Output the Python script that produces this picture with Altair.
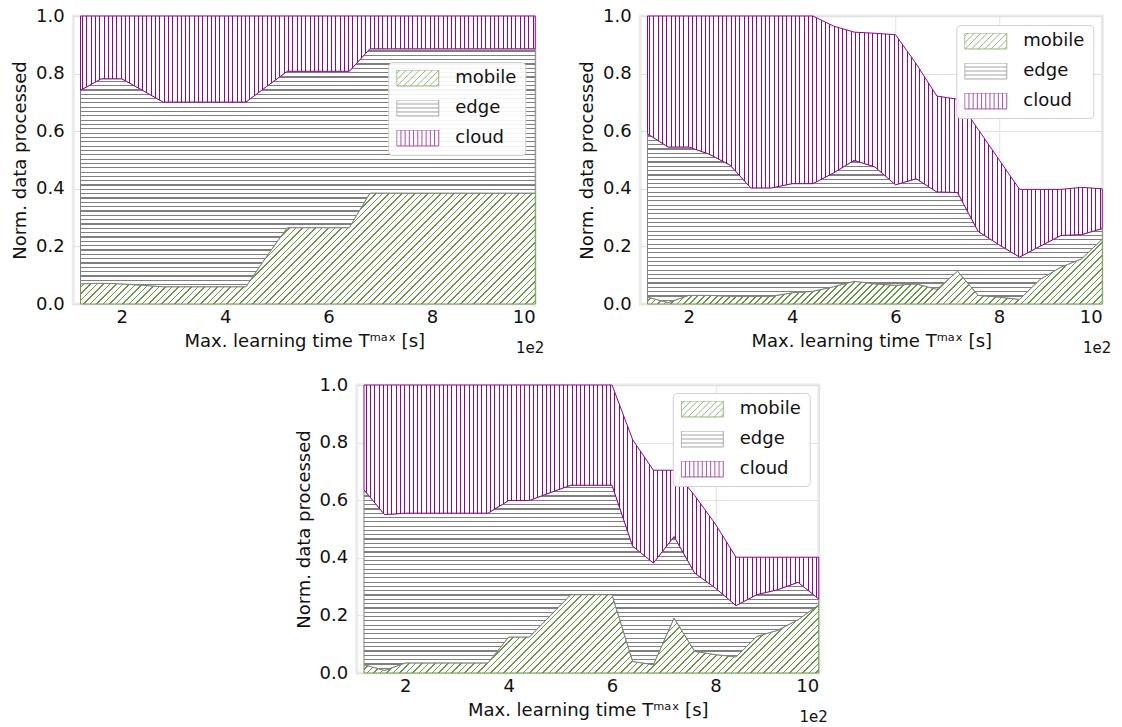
import math
import altair as alt
import pandas as pd

# ---------------- data ----------------
T = [1.2, 1.6, 2.0, 2.4, 2.8, 3.2, 3.6, 4.0, 4.4, 4.8, 5.2, 5.6,
     6.0, 6.4, 6.8, 7.2, 7.6, 8.0, 8.4, 8.8, 9.2, 9.6, 10.0]

MOBILE_1 = [0.070, 0.072, 0.070, 0.065, 0.060, 0.060, 0.060, 0.060, 0.060, 0.165, 0.265, 0.265,
            0.265, 0.265, 0.385, 0.385, 0.385, 0.385, 0.385, 0.385, 0.385, 0.385, 0.385]
EDGE_1 = [0.672, 0.710, 0.712, 0.677, 0.641, 0.641, 0.641, 0.641, 0.641, 0.590, 0.543, 0.543,
          0.543, 0.543, 0.501, 0.501, 0.501, 0.501, 0.501, 0.501, 0.501, 0.501, 0.501]
CLOUD_1 = [0.258, 0.218, 0.218, 0.258, 0.299, 0.299, 0.299, 0.299, 0.299, 0.245, 0.192, 0.192,
           0.192, 0.192, 0.114, 0.114, 0.114, 0.114, 0.114, 0.114, 0.114, 0.114, 0.114]

MOBILE_2 = [0.024, 0.005, 0.030, 0.030, 0.027, 0.027, 0.027, 0.039, 0.044, 0.060, 0.079, 0.070,
            0.065, 0.070, 0.051, 0.114, 0.030, 0.024, 0.016, 0.086, 0.128, 0.157, 0.225]
EDGE_2 = [0.567, 0.540, 0.515, 0.490, 0.455, 0.376, 0.376, 0.379, 0.374, 0.395, 0.420, 0.406,
          0.349, 0.365, 0.338, 0.273, 0.222, 0.182, 0.147, 0.115, 0.110, 0.084, 0.037]
CLOUD_2 = [0.409, 0.455, 0.455, 0.480, 0.518, 0.597, 0.597, 0.582, 0.582, 0.510, 0.445, 0.464,
           0.521, 0.399, 0.333, 0.324, 0.354, 0.296, 0.235, 0.197, 0.160, 0.164, 0.138]

MOBILE_3 = [0.029, 0.009, 0.035, 0.035, 0.035, 0.035, 0.035, 0.125, 0.125, 0.198, 0.272, 0.272,
            0.272, 0.040, 0.029, 0.191, 0.075, 0.064, 0.056, 0.127, 0.148, 0.185, 0.237]
EDGE_3 = [0.607, 0.541, 0.520, 0.520, 0.520, 0.520, 0.520, 0.474, 0.474, 0.428, 0.380, 0.380,
          0.380, 0.400, 0.353, 0.283, 0.272, 0.231, 0.178, 0.145, 0.141, 0.130, 0.020]
CLOUD_3 = [0.364, 0.450, 0.445, 0.445, 0.445, 0.445, 0.445, 0.401, 0.401, 0.374, 0.348, 0.348,
           0.348, 0.370, 0.322, 0.230, 0.269, 0.222, 0.168, 0.130, 0.113, 0.087, 0.145]

SERIES = ["mobile", "edge", "cloud"]
X_TICKS = [2, 4, 6, 8, 10]
Y_TICKS = [0.0, 0.2, 0.4, 0.6, 0.8, 1.0]
X_TITLE = "Max. learning time Tᵐᵃˣ [s]"
Y_TITLE = "Norm. data processed"
OFFSET_LABEL = "1e2"

# ---------------- style ----------------
COLORS = {"mobile": "#6a9745", "edge": "#808080", "cloud": "#870a87"}
FONT = "DejaVu Sans"
TEXT = "#111111"
PLOT_W, PLOT_H = 462, 288
X_DOMAIN = [1.06, 10.0]
SPACING = 4.3          # hatch spacing (px)
DIAG_SPACING = 4.6
LINE_PX = {"mobile": 1.2, "edge": 1.2, "cloud": 1.0}


def stripe_stops(n, frac, color, bg="white"):
    stops = [{"offset": 0, "color": bg}]
    for i in range(n):
        c = (i + 0.5) / n
        a = max(0.0, c - frac / 2)
        b = min(1.0, c + frac / 2)
        stops += [{"offset": a, "color": bg}, {"offset": a, "color": color},
                  {"offset": b, "color": color}, {"offset": b, "color": bg}]
    stops.append({"offset": 1, "color": bg})
    return stops


def horiz_hatch(W, H, color, lw):
    n = max(1, round(H / SPACING))
    return {"gradient": "linear", "x1": 0, "y1": 0, "x2": 0, "y2": 1,
            "stops": stripe_stops(n, lw / H, color)}


def vert_hatch(W, H, color, lw):
    n = max(1, round(W / SPACING))
    return {"gradient": "linear", "x1": 0, "y1": 0, "x2": 1, "y2": 0,
            "stops": stripe_stops(n, lw / W, color)}


def diag_hatch(W, H, color, lw):
    h = H / W
    a = (1 + h) / (1 + h * h)
    b = a * h
    D = (W + H) / math.sqrt(2)
    n = max(1, round(D / DIAG_SPACING))
    return {"gradient": "linear", "x1": 0, "y1": 0, "x2": a, "y2": b,
            "stops": stripe_stops(n, lw / D, color)}


# legend swatches as custom symbol paths
HY = 0.38


def swatch_diag(step=0.31):
    parts = [f"M-1,{-HY}H1V{HY}H-1Z"]
    x0 = -1 - 2 * HY + step / 2
    while x0 < 1:
        xa, ya = x0, HY
        xb, yb = x0 + 2 * HY, -HY
        if xa < -1:
            ya = HY - (-1 - xa)
            xa = -1
        if xb > 1:
            yb = HY - (1 - x0)
            xb = 1
        if xb > xa:
            parts.append(f"M{xa:.3f},{ya:.3f}L{xb:.3f},{yb:.3f}")
        x0 += step
    return "".join(parts)


def swatch_horiz():
    return f"M-1,{-HY}H1V{HY}H-1Z" + "".join(f"M-1,{y:.3f}H1" for y in (-0.19, 0.0, 0.19))


def swatch_vert():
    return f"M-1,{-HY}H1V{HY}H-1Z" + "".join(f"M{-1 + 0.2 * k:.3f},{-HY}V{HY}" for k in range(1, 10))


SHAPES = [swatch_diag(), swatch_horiz(), swatch_vert()]


def panel(mobile, edge, cloud, lx, ly):
    df = pd.DataFrame({"t": T, "mobile": mobile, "edge": edge, "cloud": cloud})
    df["base"] = 0.0
    df["m_top"] = df["mobile"]
    df["e_top"] = df["mobile"] + df["edge"]
    df["c_top"] = df["e_top"] + df["cloud"]

    xs = alt.Scale(domain=X_DOMAIN, nice=False, zero=False)
    ys = alt.Scale(domain=[0, 1], nice=False)
    xax = alt.Axis(values=X_TICKS, format="d", title=X_TITLE, labelPadding=4, titlePadding=6)
    yax = alt.Axis(values=Y_TICKS, format=".1f", title=Y_TITLE, labelPadding=9, titlePadding=6)
    x = alt.X("t:Q", scale=xs, axis=xax)

    W = (T[-1] - T[0]) * PLOT_W / (X_DOMAIN[1] - X_DOMAIN[0])
    Hm = df["m_top"].max() * PLOT_H
    He = (df["e_top"].max() - df["m_top"].min()) * PLOT_H
    Hc = (df["c_top"].max() - df["e_top"].min()) * PLOT_H

    base = alt.Chart(df)
    a_m = base.mark_area(fill=diag_hatch(W, Hm, COLORS["mobile"], LINE_PX["mobile"]),
                         stroke=COLORS["mobile"], strokeWidth=1).encode(
        x=x, y=alt.Y("base:Q", scale=ys, axis=yax), y2="m_top:Q")
    a_e = base.mark_area(fill=horiz_hatch(W, He, COLORS["edge"], LINE_PX["edge"]),
                         stroke=COLORS["edge"], strokeWidth=1).encode(
        x=x, y=alt.Y("m_top:Q", scale=ys, axis=yax), y2="e_top:Q")
    a_c = base.mark_area(fill=vert_hatch(W, Hc, COLORS["cloud"], LINE_PX["cloud"]),
                         stroke=COLORS["cloud"], strokeWidth=1).encode(
        x=x, y=alt.Y("e_top:Q", scale=ys, axis=yax), y2="c_top:Q")

    leg = alt.Legend(title=None, orient="none", legendX=lx, legendY=ly,
                     fillColor="rgba(255,255,255,0.92)", strokeColor="#d0d0d0",
                     cornerRadius=4, padding=8, symbolSize=1764, symbolStrokeWidth=1,
                     labelFontSize=18, labelFont=FONT, labelColor=TEXT, labelOffset=16,
                     clipHeight=16, rowPadding=12)
    lg_df = pd.DataFrame({"series": SERIES, "t": [T[0]] * 3, "v": [0.0] * 3})
    dummy = alt.Chart(lg_df).mark_point(filled=False).encode(
        x=alt.X("t:Q", scale=xs, axis=xax),
        y=alt.Y("v:Q", scale=ys, axis=yax),
        shape=alt.Shape("series:N", scale=alt.Scale(domain=SERIES, range=SHAPES), legend=leg),
        color=alt.Color("series:N", scale=alt.Scale(domain=SERIES, range=[COLORS[s] for s in SERIES]),
                        legend=leg),
    ).transform_filter("false")

    off = alt.Chart(pd.DataFrame({"label": [OFFSET_LABEL]})).mark_text(
        align="right", baseline="middle", fontSize=15, font=FONT, color=TEXT).encode(
        x=alt.value(PLOT_W + 9), y=alt.value(PLOT_H + 44), text="label:N")

    return alt.layer(a_m, a_e, a_c, dummy, off).properties(width=PLOT_W, height=PLOT_H)


p1 = panel(MOBILE_1, EDGE_1, CLOUD_1, 315, 46)
p2 = panel(MOBILE_2, EDGE_2, CLOUD_2, 316, 9)
p3 = panel(MOBILE_3, EDGE_3, CLOUD_3, 316, 8)

row = alt.hconcat(p1, p2, spacing=30).resolve_scale(
    color="independent", shape="independent").resolve_legend(color="independent", shape="independent")

chart = alt.vconcat(row, p3, spacing=16, center=True).resolve_scale(
    color="independent", shape="independent").resolve_legend(
    color="independent", shape="independent").properties(
    padding={"left": 10, "top": 5, "right": 5, "bottom": 5}, background="white"
).configure(font=FONT).configure_view(
    stroke="#ebebeb", strokeWidth=3
).configure_axis(
    grid=True, gridColor="#e2e2e2", gridWidth=1, domain=False, ticks=False, tickSize=0,
    labelFont=FONT, labelFontSize=18, labelColor=TEXT,
    titleFont=FONT, titleFontSize=18, titleFontWeight="normal", titleColor=TEXT
)

chart.save("out.html", embed_options={"renderer": "svg", "actions": False})
